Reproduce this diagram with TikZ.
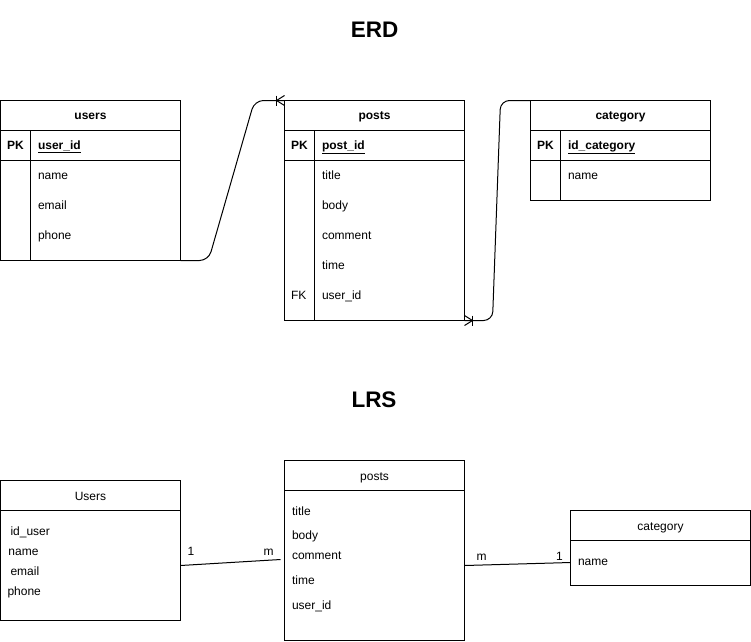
\documentclass[tikz,border=0pt]{standalone}
\usepackage{fontspec}
\setmainfont{Liberation Sans}
\begin{document}
\begin{tikzpicture}[x=1pt,y=-1pt,line width=1pt,
  every node/.style={inner sep=0pt,outer sep=0pt,font=\fontsize{12}{14}\selectfont},
  tbl/.style={draw,anchor=north west,minimum width=180pt},
  txt/.style={anchor=base west},
  hdr/.style={anchor=base,font=\fontsize{12}{14}\selectfont\bfseries},
  lhdr/.style={anchor=base},
  keytxt/.style={anchor=base west,font=\fontsize{12}{14}\selectfont\bfseries},
  ttl/.style={anchor=base,font=\fontsize{22.5}{26}\selectfont\bfseries},
  conn/.style={line width=1pt,rounded corners=9pt}]
\path[use as bounding box,fill=white] (0,0) rectangle (751,641);

% titles
\node[ttl] (terd) at (374.5,37) {ERD};
\node[ttl] (tlrs) at (374,407.5) {LRS};

% ===== ERD: users =====
\node[tbl,minimum height=160pt] (users) at (0.5,100.5) {};
\draw (0.5,130.5) -- (180.5,130.5);
\draw (0.5,160.5) -- (180.5,160.5);
\draw (30.5,130.5) -- (30.5,260.5);
\node[hdr] (usersh) at (90.5,119.5) {users};
\node[keytxt] (userspk) at (7,149.5) {PK};
\node[keytxt] (usersid) at (38,149.5) {\underline{user\_id}};
\node[txt] (usersn) at (38,179.5) {name};
\node[txt] (userse) at (38,209.5) {email};
\node[txt] (usersp) at (38,239.5) {phone};

% ===== ERD: posts =====
\node[tbl,minimum height=220pt] (posts) at (284.5,100.5) {};
\draw (284.5,130.5) -- (464.5,130.5);
\draw (284.5,160.5) -- (464.5,160.5);
\draw (314.5,130.5) -- (314.5,320.5);
\node[hdr] (postsh) at (374.5,119.5) {posts};
\node[keytxt] (postspk) at (291,149.5) {PK};
\node[keytxt] (postsid) at (322,149.5) {\underline{post\_id}};
\node[txt] (postst) at (322,179.5) {title};
\node[txt] (postsb) at (322,209.5) {body};
\node[txt] (postsc) at (322,239.5) {comment};
\node[txt] (poststi) at (322,269.5) {time};
\node[txt] (postsfk) at (291,299.5) {FK};
\node[txt] (postsu) at (322,299.5) {user\_id};

% ===== ERD: category =====
\node[tbl,minimum height=100pt] (cat) at (530.5,100.5) {};
\draw (530.5,130.5) -- (710.5,130.5);
\draw (530.5,160.5) -- (710.5,160.5);
\draw (560.5,130.5) -- (560.5,200.5);
\node[hdr] (cath) at (620.5,119.5) {category};
\node[keytxt] (catpk) at (537,149.5) {PK};
\node[keytxt] (catid) at (568,149.5) {\underline{id\_category}};
\node[txt] (catn) at (568,179.5) {name};

% ERD connectors
\draw[conn] (users.south east) -- (208.5,260.5) -- (254.5,100.5) -- (posts.north west);
\draw (276.5,95.5) -- (276.5,105.5);
\draw (284.5,95.5) -- (276.5,100.5) -- (284.5,105.5);
\draw[conn] (posts.south east) -- (492.5,320.5) -- (500.5,100.5) -- (cat.north west);
\draw (472.5,315.5) -- (472.5,325.5);
\draw (464.5,315.5) -- (472.5,320.5) -- (464.5,325.5);

% ===== LRS: Users =====
\node[tbl,minimum height=140pt] (lusers) at (0.5,480.5) {};
\draw (0.5,510.5) -- (180.5,510.5);
\node[lhdr] (lusersh) at (90.5,500) {Users};
\node[txt] (lusers1) at (10.5,535) {id\_user};
\node[txt] (lusers2) at (8.5,555) {name};
\node[txt] (lusers3) at (10.5,575) {email};
\node[txt] (lusers4) at (7.5,595) {phone};

% ===== LRS: posts =====
\node[tbl,minimum height=180pt] (lposts) at (284.5,460.5) {};
\draw (284.5,490.5) -- (464.5,490.5);
\node[lhdr] (lpostsh) at (374.5,480) {posts};
\node[txt] (lposts1) at (292,515) {title};
\node[txt] (lposts2) at (292,539) {body};
\node[txt] (lposts3) at (292,559.5) {comment};
\node[txt] (lposts4) at (292,584.5) {time};
\node[txt] (lposts5) at (292,609) {user\_id};

% ===== LRS: category =====
\node[tbl,minimum height=75pt] (lcat) at (570.5,510.5) {};
\draw (570.5,540.5) -- (750.5,540.5);
\node[lhdr] (lcath) at (660.5,530) {category};
\node[txt] (lcat1) at (578,565) {name};

% LRS connectors
\coordinate (l1a) at (180.5,565.5);
\coordinate (l1b) at (280.5,559.5);
\draw (l1a) -- (l1b);
\node[txt] (l1one) at (187.5,555) {1};
\node[txt] (l1m) at (263.5,555) {m};
\coordinate (l2a) at (464.5,565.5);
\coordinate (l2b) at (570.5,562.5);
\draw (l2a) -- (l2b);
\node[txt] (l2m) at (476.5,560) {m};
\node[txt] (l2one) at (556,560) {1};
\end{tikzpicture}
\end{document}
